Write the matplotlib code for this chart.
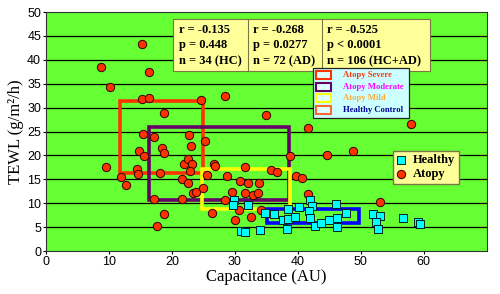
"""TEWL vs capacitance scatter, healthy vs atopy."""

import matplotlib
matplotlib.use("Agg")
import matplotlib.pyplot as plt
from matplotlib.patches import Rectangle

# atopy (red circles)
atopy_x = [8.8, 10.1, 15.3, 16.4, 15.3, 16.4, 24.7, 28.5, 18.7, 15.4,
           17.2, 22.7, 25.3, 18.4, 23.1, 14.8, 15.6, 18.7, 9.5, 14.4,
           14.6, 11.9, 12.7, 18.1, 22.0, 22.6, 23.2, 22.9, 21.6, 22.6,
           23.4, 23.9, 25.0, 25.6, 26.7, 26.8, 28.7, 17.1, 21.6, 18.7,
           17.6, 26.4, 28.5, 29.6, 30.0, 30.9, 31.6, 32.1, 31.7, 30.7,
           32.5, 33.8, 32.9, 33.7, 35.7, 36.7, 39.8, 40.7, 41.7, 34.2,
           38.7, 44.7, 48.8, 53.1, 34.9, 41.7, 58.0]
atopy_y = [38.6, 34.4, 43.4, 37.5, 31.9, 32.1, 31.5, 32.5, 28.9, 24.4,
           23.8, 24.3, 23.0, 21.5, 21.9, 21.0, 19.9, 20.6, 17.6, 17.2,
           16.2, 15.4, 13.9, 16.3, 18.3, 19.3, 18.2, 16.7, 15.0, 14.2,
           12.2, 12.4, 13.2, 16.0, 18.3, 17.8, 15.7, 10.9, 10.9, 7.7,
           5.2, 8.0, 10.7, 12.3, 6.4, 14.7, 12.2, 14.3, 17.5, 8.6,
           7.2, 14.3, 11.8, 12.1, 16.9, 16.6, 15.7, 15.2, 11.9, 8.6,
           19.9, 20.1, 20.9, 10.3, 28.5, 25.7, 26.5]

# healthy (cyan squares)
healthy_x = [29.8, 29.7, 32.1, 31.0, 31.6, 34.0, 36.3, 37.7, 38.3, 38.5,
             39.5, 38.5, 40.2, 41.9, 42.3, 41.8, 42.0, 42.8, 43.7, 45.0,
             46.2, 46.2, 46.1, 47.6, 52.0, 53.0, 52.5, 52.8, 56.7, 59.1,
             59.4, 34.8]
healthy_y = [10.7, 9.6, 9.7, 4.1, 3.9, 4.5, 7.7, 6.5, 4.6, 6.8,
             7.2, 8.8, 9.3, 10.7, 9.5, 8.4, 6.9, 5.2, 5.8, 6.6,
             7.0, 5.0, 9.8, 8.0, 7.7, 7.3, 6.1, 4.7, 7.0, 6.1,
             5.6, 7.9]

# group range boxes
box_names = ["Atopy Severe", "Atopy Moderate", "Atopy Mild", "Healthy Control"]
box_x0 = [11.8, 16.3, 24.8, 35.1]
box_x1 = [24.9, 38.6, 38.7, 49.7]
box_y0 = [16.4, 10.7, 8.7, 5.8]
box_y1 = [31.4, 26.0, 17.1, 8.7]
box_colors = ["#FF3300", "#660066", "#FFFF00", "#0000FF"]
key_edge = ["#FF3300", "#660066", "#FFFF00", "#FF6633"]
key_text = ["#FF3300", "#FF00FF", "#FFAA33", "#000099"]

# correlation stats
stat_r = ["r = -0.135", "r = -0.268", "r = -0.525"]
stat_p = ["p = 0.448", "p = 0.0277", "p < 0.0001"]
stat_n = ["n = 34 (HC)", "n = 72 (AD)", "n = 106 (HC+AD)"]

xticks = [0, 10, 20, 30, 40, 50, 60]
yticks = [0, 5, 10, 15, 20, 25, 30, 35, 40, 45, 50]

serif = "Liberation Serif"
sans = "Liberation Sans"

fig = plt.figure(figsize=(5, 2.94), dpi=100)
ax = fig.add_axes([0.092, 0.146, 0.881, 0.813])
ax.set_facecolor("#66FF33")
ax.set_xlim(0, 70); ax.set_ylim(0, 50)
ax.set_xticks(xticks); ax.set_yticks(yticks)
ax.set_xticklabels([str(v) for v in xticks], family=sans, fontsize=9)
ax.set_yticklabels([str(v) for v in yticks], family=sans, fontsize=9)
ax.tick_params(length=2, pad=1.5)
for y in yticks[1:-1]:
    ax.axhline(y, color="black", lw=0.9, zorder=1)
for s in ax.spines.values():
    s.set_color("#333333")

for x0, x1, y0, y1, c in zip(box_x0, box_x1, box_y0, box_y1, box_colors):
    ax.add_patch(Rectangle((x0, y0), x1 - x0, y1 - y0, fill=False,
                           edgecolor=c, lw=2.6, zorder=2))

ax.scatter(atopy_x, atopy_y, s=36, marker="o", color="#FF3300",
           edgecolor="#330000", lw=0.7, zorder=3, label="Atopy")
ax.scatter(healthy_x, healthy_y, s=30, marker="s", color="#00FFFF",
           edgecolor="#002222", lw=0.7, zorder=4, label="Healthy")

ax.set_xlabel("Capacitance (AU)", family=serif, fontsize=12, labelpad=1)
ax.set_ylabel("TEWL (g/m²/h)", family=serif, fontsize=12, labelpad=2)

# stats table
ax.add_patch(Rectangle((0.288, 0.753), 0.583, 0.218, transform=ax.transAxes,
                       facecolor="#FFFF99", edgecolor="#777744", lw=0.8, zorder=5))
for xd in [0.458, 0.626]:
    ax.plot([xd, xd], [0.753, 0.971], transform=ax.transAxes,
            color="#777744", lw=0.8, zorder=6)
for xt, r, p, n in zip([0.302, 0.470, 0.638], stat_r, stat_p, stat_n):
    for yt, t in zip([0.925, 0.862, 0.795], [r, p, n]):
        ax.text(xt, yt, t, transform=ax.transAxes, family=serif,
                fontweight="bold", fontsize=9, va="center", zorder=7)

# box key
ax.add_patch(Rectangle((0.606, 0.556), 0.218, 0.210, transform=ax.transAxes,
                       facecolor="#CCFFFF", edgecolor="#222222", lw=0.9, zorder=8))
for yk, name, ec, tc in zip([0.736, 0.687, 0.639, 0.590], box_names, key_edge, key_text):
    ax.add_patch(Rectangle((0.614, yk - 0.017), 0.033, 0.034, transform=ax.transAxes,
                           facecolor="#DDFFFF", edgecolor=ec, lw=1.5, zorder=9))
    ax.text(0.674, yk, name, transform=ax.transAxes, family=serif,
            fontweight="bold", fontsize=6.2, color=tc, va="center", zorder=9)

handles, labels = ax.get_legend_handles_labels()
leg = ax.legend(handles[::-1], labels[::-1], loc="upper left",
                bbox_to_anchor=(0.787, 0.42), borderaxespad=0,
                prop={"family": serif, "weight": "bold", "size": 9},
                handlelength=0.8, handletextpad=0.5, borderpad=0.3,
                labelspacing=0.15, fancybox=False, framealpha=1,
                facecolor="#FFFF99", edgecolor="#777744")
leg.set_zorder(10)

plt.savefig("out.png", dpi=100)
plt.close(fig)
